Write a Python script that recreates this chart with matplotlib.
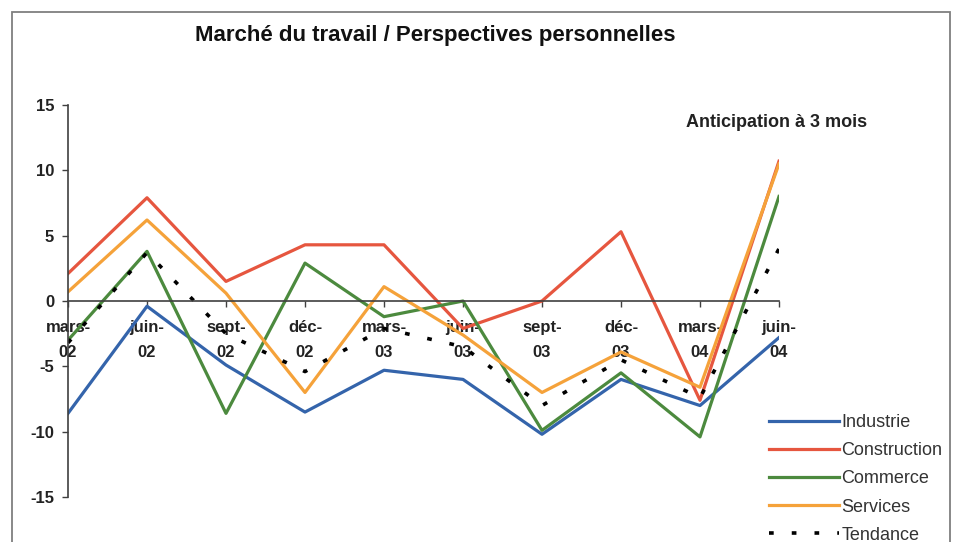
import numpy as np
import matplotlib.pyplot as plt
from matplotlib.patches import Rectangle

# Quarterly survey balances
quarters = ['mars-\n02', 'juin-\n02', 'sept-\n02', 'déc-\n02', 'mars-\n03',
            'juin-\n03', 'sept-\n03', 'déc-\n03', 'mars-\n04', 'juin-\n04']
industrie = [-8.6, -0.4, -4.9, -8.5, -5.3, -6.0, -10.2, -6.0, -8.0, -2.8]
construction = [2.1, 7.9, 1.5, 4.3, 4.3, -2.1, 0.0, 5.3, -7.6, 10.7]
commerce = [-3.0, 3.8, -8.6, 2.9, -1.2, 0.0, -9.9, -5.5, -10.4, 8.0]
services = [0.7, 6.2, 0.6, -7.0, 1.1, -2.6, -7.0, -3.9, -6.6, 10.5]
tendance = [-3.2, 3.7, -2.5, -5.4, -2.1, -3.5, -8.0, -4.5, -7.4, 4.0]

plt.rcParams['font.family'] = ['Liberation Sans', 'DejaVu Sans']

fig = plt.figure(figsize=(9.54, 5.42), dpi=100)
W, H = 954, 542

# outer frame of the chart
fig.patches.append(Rectangle((12 / W, -0.05), (950 - 12) / W, 1.05 - 12 / H,
                             transform=fig.transFigure, fill=False,
                             edgecolor='#7f7f7f', linewidth=1.3))

ax = fig.add_axes([68 / W, 1 - 497 / H, (779 - 68) / W, (497 - 105) / H])
x = np.arange(len(quarters))

ax.plot(x, industrie, color='#3464AB', lw=2.3, label='Industrie')
ax.plot(x, construction, color='#E6563F', lw=2.3, label='Construction')
ax.plot(x, commerce, color='#4C8A3E', lw=2.3, label='Commerce')
ax.plot(x, services, color='#F5A23A', lw=2.3, label='Services')
ax.plot(x, tendance, color='black', lw=2.6, linestyle=(0, (1.3, 5.0)),
        label='Tendance')

# spine position first: it resets the ticks
for side in ['top', 'right']:
    ax.spines[side].set_visible(False)
ax.spines['bottom'].set_position(('data', 0))
ax.spines['bottom'].set_color('#404040')
ax.spines['left'].set_color('#404040')
ax.spines['bottom'].set_linewidth(1.2)
ax.spines['left'].set_linewidth(1.2)

ax.set_xlim(0, 9)
ax.set_ylim(-15, 15)
ax.set_yticks([-15, -10, -5, 0, 5, 10, 15])
ax.set_yticklabels(['-15', '-10', '-5', '0', '5', '10', '15'],
                   fontsize=12, fontweight='bold', color='#222222')
ax.set_xticks(x)
ax.set_xticklabels(quarters, fontsize=12, fontweight='bold', color='#222222',
                   linespacing=1.8)
ax.tick_params(axis='x', direction='out', length=4, width=1, color='#404040', pad=10)
ax.tick_params(axis='y', direction='out', length=4, width=1, color='#404040', pad=6)
ax.patch.set_alpha(0)

fig.text(435 / W, 1 - 36 / H, 'Marché du travail / Perspectives personnelles',
         fontsize=16, fontweight='bold', ha='center', va='center', color='#111111')
fig.text(777 / W, 1 - 122 / H, 'Anticipation à 3 mois',
         fontsize=13, fontweight='bold', ha='center', va='center', color='#222222')

fig.legend(loc='upper left', bbox_to_anchor=(769 / W, 1 - 414 / H),
           frameon=False, fontsize=13, handlelength=3.9, handletextpad=0.1,
           labelspacing=0.62, borderpad=0, borderaxespad=0,
           labelcolor='#333333')

fig.savefig('out.png', dpi=100)
